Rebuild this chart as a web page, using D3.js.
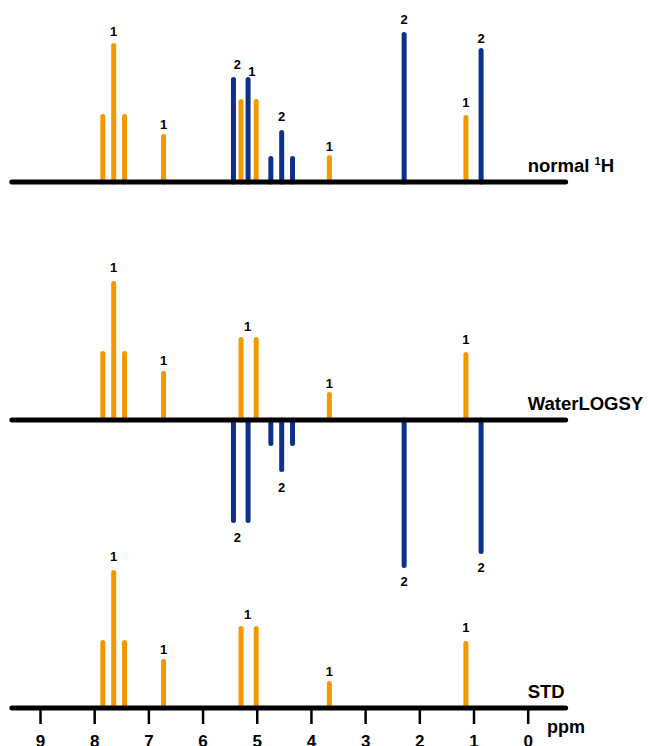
<!DOCTYPE html>
<html>
<head>
<meta charset="utf-8">
<script src="https://cdn.jsdelivr.net/npm/d3@7"></script>
<style>
  body { margin: 0; background: #fff; }
  text { font-family: "Liberation Sans", Arial, sans-serif; font-weight: bold; }
</style>
</head>
<body>
<script>
// stick spectra: normal 1H, WaterLOGSY, STD
const width = 648, height = 746

const shifts = [7.84, 7.64, 7.44, 6.72, 5.43, 5.29, 5.16, 5.01, 4.74, 4.54, 4.34, 3.66, 2.28, 1.14, 0.86]
const ligand = [1, 1, 1, 1, 2, 1, 2, 1, 2, 2, 2, 1, 2, 1, 2]

const normalH    = [68, 139, 68, 48, 105, 83, 105, 83, 26, 52, 26, 27, 150, 67, 134]
const waterLogsy = [69, 139, 69, 49, -103, 83, -103, 83, -26, -52, -26, 28, -148, 68, -134]
const stdValues  = [68, 138, 68, 49, 0, 82, 0, 82, 0, 0, 0, 27, 0, 67, 0]

// peak annotations: [ppm, intensity of label centre, text]
const normalLabels = [[7.64, 151, "1"], [6.72, 58, "1"], [5.36, 118, "2"], [5.09, 111, "1"],
  [4.54, 66, "2"], [3.66, 36, "1"], [2.28, 163, "2"], [1.14, 80, "1"], [0.86, 144, "2"]]
const wlogsyLabels = [[7.64, 153, "1"], [6.72, 60, "1"], [5.17, 94, "1"], [3.66, 37, "1"],
  [1.14, 81, "1"], [5.36, -117, "2"], [4.54, -67, "2"], [2.28, -161, "2"], [0.86, -147, "2"]]
const stdLabels = [[7.64, 152, "1"], [6.72, 59, "1"], [5.17, 94, "1"], [3.66, 37, "1"], [1.14, 81, "1"]]

const ppmTicks = [9, 8, 7, 6, 5, 4, 3, 2, 1, 0]

const spectra = [
  { name: "normal", values: normalH, labels: normalLabels, base: 182 },
  { name: "WaterLOGSY", values: waterLogsy, labels: wlogsyLabels, base: 420 },
  { name: "STD", values: stdValues, labels: stdLabels, base: 708 }
]

const colors = { 1: "#F39800", 2: "#0D3188" }

const x = d3.scaleLinear()
    .domain([9, 0])
    .range([40, 527.7])

const y = d3.scaleLinear()
    .domain([0, 150])
    .range([0, -150])

const svg = d3.select("body").append("svg")
    .attr("width", width)
    .attr("height", height)

spectra.forEach(function(s){
  const g = svg.append("g")
      .attr("transform", "translate(0," + s.base + ")")

  const peaks = shifts.map(function(p, i){
    return { ppm: p, v: s.values[i], lig: ligand[i] }
  }).filter(function(d){ return d.v !== 0 })

  g.selectAll(".peak")
    .data(peaks)
    .enter().append("line")
      .attr("class", "peak")
      .attr("x1", function(d){ return x(d.ppm) })
      .attr("x2", function(d){ return x(d.ppm) })
      .attr("y1", 0)
      .attr("y2", function(d){ return y(d.v) + (d.v > 0 ? 2.5 : -2.5) })
      .attr("stroke", function(d){ return colors[d.lig] })
      .attr("stroke-width", 5)
      .attr("stroke-linecap", "round")

  g.selectAll(".plabel")
    .data(s.labels)
    .enter().append("text")
      .attr("class", "plabel")
      .attr("x", function(d){ return x(d[0]) })
      .attr("y", function(d){ return y(d[1]) })
      .attr("dy", "0.36em")
      .attr("text-anchor", "middle")
      .style("font-size", "13px")
      .text(function(d){ return d[2] })

  g.append("line")
      .attr("x1", x(9.52))
      .attr("x2", x(-0.7))
      .attr("y1", 0)
      .attr("y2", 0)
      .attr("stroke", "#000")
      .attr("stroke-width", 5)
      .attr("stroke-linecap", "round")

  const title = g.append("text")
      .attr("x", x(0))
      .attr("y", -10)
      .style("font-size", "18.5px")
  if (s.name === "normal") {
    title.append("tspan").text("normal ")
    title.append("tspan").text("1").style("font-size", "11px").attr("dy", -7)
    title.append("tspan").text("H").attr("dy", 7)
  } else {
    title.text(s.name)
  }
})

// ppm axis under the STD trace
const axis = svg.append("g")
    .attr("class", "axis")
    .attr("transform", "translate(0,708)")
    .call(d3.axisBottom(x).tickValues(ppmTicks).tickSize(16).tickPadding(11).tickFormat(d3.format("d")))

axis.select(".domain").remove()
axis.selectAll(".tick line").attr("stroke", "#000").attr("stroke-width", 2.5)
axis.selectAll(".tick text")
    .style("font-size", "17px")
    .style("font-family", "'Liberation Sans', Arial, sans-serif")
    .style("font-weight", "bold")
    .attr("fill", "#000")

svg.append("text")
    .attr("x", 547)
    .attr("y", 733)
    .style("font-size", "18px")
    .text("ppm")
</script>
</body>
</html>
